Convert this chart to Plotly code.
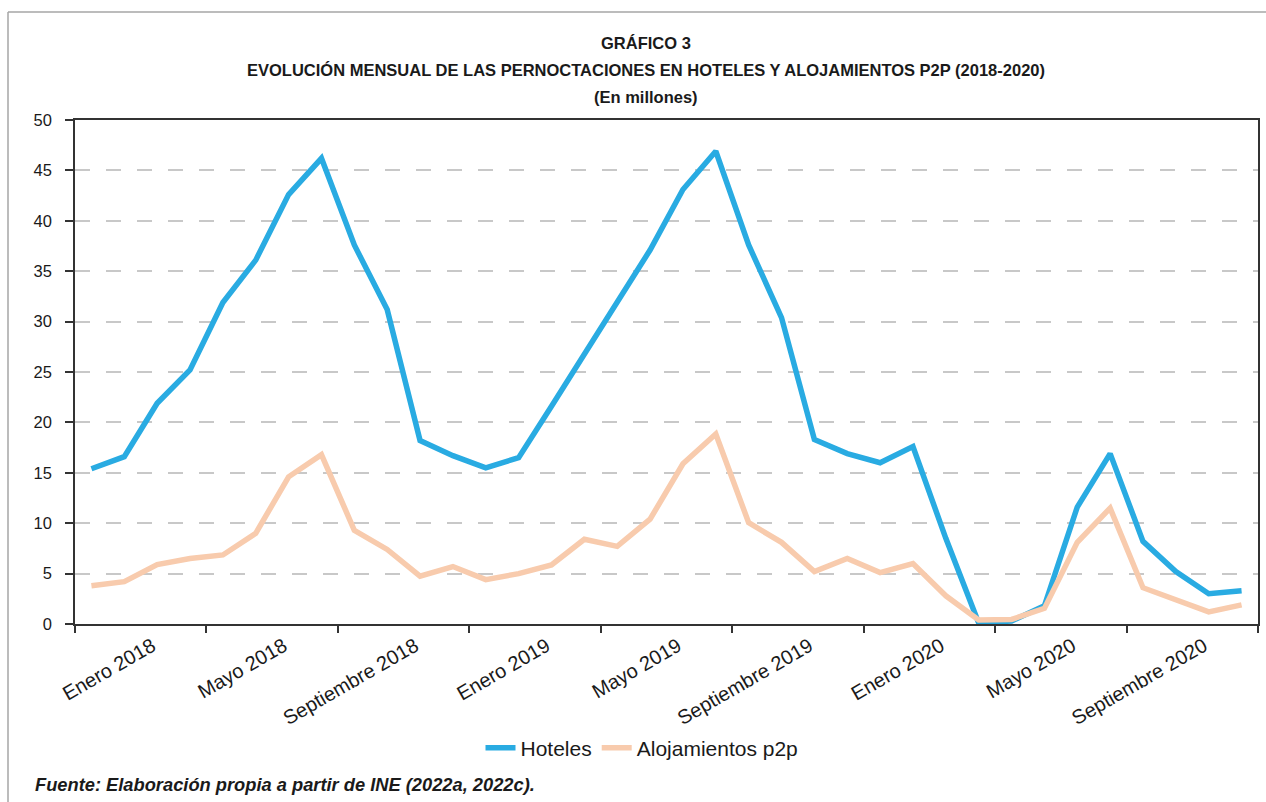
import plotly.graph_objects as go

# ---------------- data ----------------
meses = ["Enero", "Febrero", "Marzo", "Abril", "Mayo", "Junio", "Julio",
         "Agosto", "Septiembre", "Octubre", "Noviembre", "Diciembre"]
anios = [2018, 2019, 2020]
months = [f"{m} {a}" for a in anios for m in meses]

hoteles = [15.4, 16.6, 21.9, 25.2, 31.9, 36.1, 42.6, 46.2, 37.6, 31.2, 18.2, 16.7,
           15.5, 16.5, 21.6, 26.7, 31.9, 37.1, 43.1, 46.9, 37.6, 30.4, 18.3, 16.9,
           16.0, 17.6, 8.5, 0.1, 0.3, 1.8, 11.6, 16.9, 8.2, 5.2, 3.0, 3.3]
p2p = [3.8, 4.2, 5.9, 6.5, 6.85, 9.0, 14.6, 16.8, 9.3, 7.4, 4.75, 5.7,
       4.4, 5.0, 5.85, 8.4, 7.7, 10.4, 15.9, 18.85, 10.05, 8.1, 5.2, 6.5,
       5.1, 6.0, 2.8, 0.4, 0.45, 1.55, 8.1, 11.5, 3.6, 2.4, 1.2, 1.9]

tick_labels = months[::4]          # Enero 2018, Mayo 2018, Septiembre 2018, ...
title_lines = ["GRÁFICO 3",
               "EVOLUCIÓN MENSUAL DE LAS PERNOCTACIONES EN HOTELES Y ALOJAMIENTOS P2P (2018-2020)",
               "(En millones)"]
fuente = "Fuente: Elaboración propia a partir de INE (2022a, 2022c)."

# ---------------- figure ----------------
x_idx = list(range(len(months)))
FONT = "Liberation Sans, Arial, Helvetica, sans-serif"

fig = go.Figure()
fig.add_trace(go.Scatter(x=x_idx, y=hoteles, name="Hoteles", mode="lines",
                         line=dict(color="#29ABE2", width=5.5),
                         text=months, hovertemplate="%{text}: %{y}<extra></extra>"))
fig.add_trace(go.Scatter(x=x_idx, y=p2p, name="Alojamientos p2p", mode="lines",
                         line=dict(color="#F8CBAD", width=5.5),
                         text=months, hovertemplate="%{text}: %{y}<extra></extra>"))

label_pos = [i + 1.85 for i in range(0, len(months), 4)]
boundaries = [i - 0.5 for i in range(0, len(months) + 1, 4)]

fig.update_xaxes(
    range=[-0.5, len(months) - 0.5],
    tickmode="array", tickvals=label_pos, ticktext=tick_labels,
    tickangle=-30, ticks="", ticklabelstandoff=1,
    tickfont=dict(family=FONT, size=20, color="#1a1a1a"),
    minor=dict(tickvals=boundaries, ticks="outside", ticklen=7,
               tickwidth=1.5, tickcolor="#333333", showgrid=False),
    showline=True, linecolor="#333333", linewidth=1.5, mirror=True,
    showgrid=False, zeroline=False,
)
fig.update_yaxes(
    range=[0, 50], dtick=5, tick0=0,
    ticks="outside", ticklen=8, tickwidth=1.5, tickcolor="#333333",
    ticklabelstandoff=10,
    tickfont=dict(family=FONT, size=16.5, color="#1a1a1a"),
    showline=True, linecolor="#333333", linewidth=1.5, mirror=True,
    showgrid=True, gridcolor="#c8c8c8", gridwidth=2, griddash="15px,16px",
    zeroline=False,
)

# plot area: x 75..1258, y 120..624
L, R, T, B = 75, 8, 120, 178
W, H = 1266, 802
pw, ph = W - L - R, H - T - B

def px(x):
    return (x - L) / pw

def py(y):
    return (H - B - y) / ph

annotations = []
for txt, yy in zip(title_lines, [43, 70, 97]):
    annotations.append(dict(text=f"<b>{txt}</b>", xref="paper", yref="paper",
                            x=px(646), y=py(yy), xanchor="center", yanchor="middle",
                            showarrow=False,
                            font=dict(family=FONT, size=16.5, color="#1a1a1a")))
annotations.append(dict(text=f"<b><i>{fuente}</i></b>", xref="paper", yref="paper",
                        x=px(33), y=py(784), xanchor="left", yanchor="middle",
                        showarrow=False,
                        font=dict(family=FONT, size=18.3, color="#1a1a1a")))

shapes = [
    dict(type="line", xref="paper", yref="paper", x0=px(8), x1=px(1266),
         y0=py(12), y1=py(12), line=dict(color="#a6a6a6", width=1.5)),
    dict(type="line", xref="paper", yref="paper", x0=px(8), x1=px(8),
         y0=py(12), y1=py(802), line=dict(color="#a6a6a6", width=1.5)),
]

fig.update_layout(
    width=W, height=H,
    margin=dict(l=L, r=R, t=T, b=B, autoexpand=False),
    paper_bgcolor="white", plot_bgcolor="white",
    font=dict(family=FONT, size=16, color="#1a1a1a"),
    showlegend=True,
    legend=dict(orientation="h", x=px(642), y=py(748), xanchor="center",
                yanchor="middle", font=dict(family=FONT, size=21, color="#1a1a1a"),
                itemwidth=30, tracegroupgap=0, bgcolor="rgba(0,0,0,0)"),
    annotations=annotations, shapes=shapes,
)

fig.write_html("out.html")
